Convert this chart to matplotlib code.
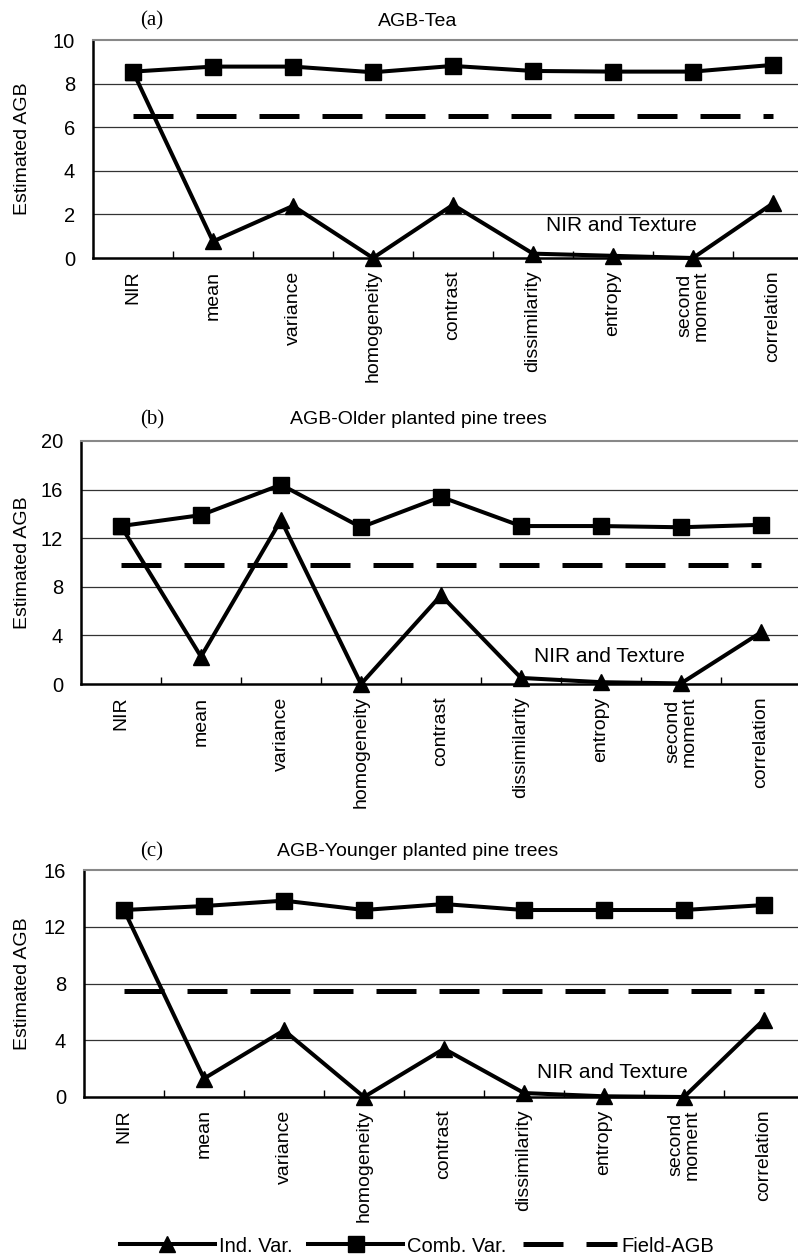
import matplotlib
matplotlib.use("Agg")
import matplotlib.pyplot as plt
from matplotlib.lines import Line2D
import numpy as np

# texture measures on the x axis
categories = ["NIR", "mean", "variance", "homogeneity", "contrast",
              "dissimilarity", "entropy", "second\nmoment", "correlation"]

# (a) AGB-Tea
tea_ind = [8.55, 0.76, 2.39, 0.0, 2.44, 0.20, 0.10, 0.0, 2.51]
tea_comb = [8.55, 8.78, 8.78, 8.52, 8.81, 8.58, 8.55, 8.55, 8.86]
tea_field = 6.5

# (b) AGB-Older planted pine trees
old_ind = [13.0, 2.25, 13.5, 0.0, 7.3, 0.5, 0.15, 0.05, 4.25]
old_comb = [13.0, 13.9, 16.4, 12.9, 15.4, 13.0, 13.0, 12.9, 13.1]
old_field = 9.8

# (c) AGB-Younger planted pine trees
young_ind = [13.18, 1.3, 4.7, 0.0, 3.4, 0.28, 0.05, 0.0, 5.46]
young_comb = [13.18, 13.46, 13.84, 13.18, 13.6, 13.18, 13.18, 13.18, 13.53]
young_field = 7.5

panels = [
    ("(a)", "AGB-Tea", tea_ind, tea_comb, tea_field, 10, [0, 2, 4, 6, 8, 10], 1.5),
    ("(b)", "AGB-Older planted pine trees", old_ind, old_comb, old_field, 20, [0, 4, 8, 12, 16, 20], 2.3),
    ("(c)", "AGB-Younger planted pine trees", young_ind, young_comb, young_field, 16, [0, 4, 8, 12, 16], 1.7),
]

W, H = 798, 1256
# axes boxes in pixels: left, top, bottom
boxes = [(93, 40, 258), (81, 441, 684), (84, 870, 1097)]
title_y = [21, 420, 852]
step = 80.0

narrow = ["Liberation Sans Narrow", "Liberation Sans", "DejaVu Sans"]
sans = ["Liberation Sans", "DejaVu Sans"]
serif = ["Liberation Serif", "DejaVu Serif"]

fig = plt.figure(figsize=(W / 100, H / 100), dpi=100)

dash = (8, 4.6)
x = np.arange(len(categories))

for (tag, title, ind, comb, field, ymax, yt, txt_y), (l, t, b), ty in zip(panels, boxes, title_y):
    ax = fig.add_axes([l / W, 1 - b / H, (W - l) / W, (b - t) / H])
    ax.plot(x, comb, color="black", lw=2.9, marker="s", ms=11.5, zorder=4)
    ax.plot(x, ind, color="black", lw=2.9, marker="^", ms=11, zorder=4, clip_on=False)
    ax.plot(x, [field] * len(x), color="black", lw=3.6, dashes=dash, zorder=3)

    ax.set_xlim(-0.5, -0.5 + (W - l) / step)
    ax.set_ylim(0, ymax)
    ax.set_yticks(yt)
    ax.set_yticklabels([str(v) for v in yt], family=narrow, fontsize=14.5)
    ax.tick_params(axis="y", length=0, pad=13)
    for v in yt[1:-1]:
        ax.axhline(v, color="#333333", lw=0.9, zorder=1)

    ax.set_xticks(x)
    ax.set_xticklabels(categories, rotation=90, family=sans, fontsize=14,
                       va="top", ha="center", linespacing=1.0)
    ax.tick_params(axis="x", which="major", length=0, pad=9)
    ax.set_xticks(np.arange(0.5, 8.0, 1.0), minor=True)
    ax.tick_params(axis="x", which="minor", direction="in", length=5, width=1)

    ax.spines["right"].set_visible(False)
    ax.spines["top"].set_color("#888888")
    ax.spines["top"].set_linewidth(1.5)
    ax.spines["left"].set_linewidth(1.8)
    ax.spines["bottom"].set_linewidth(1.8)

    ax.text(6.1, txt_y, "NIR and Texture", family=narrow, fontsize=15,
            ha="center", va="center")

    fig.text(152 / W, 1 - ty / H, tag, family=serif, fontsize=15, ha="center", va="center")
    fig.text(418 / W, 1 - ty / H, title, family=sans, fontsize=14, ha="center", va="center")
    fig.text(23 / W, 1 - (t + b) / 2 / H, "Estimated AGB", family=sans, fontsize=14,
             rotation=90, ha="center", va="center")

handles = [
    Line2D([], [], color="black", lw=2.9, marker="^", ms=11),
    Line2D([], [], color="black", lw=2.9, marker="s", ms=11.5),
    Line2D([], [], color="black", lw=3.6, dashes=dash),
]
fig.legend(handles, ["Ind. Var.", "Comb. Var.", "Field-AGB"], loc="center",
           bbox_to_anchor=(417 / W, 1 - 1246 / H), ncol=3, frameon=False,
           handlelength=4.7, handletextpad=0.2, columnspacing=0.8,
           prop={"family": sans, "size": 14.5})

fig.savefig("out.png", dpi=100)
